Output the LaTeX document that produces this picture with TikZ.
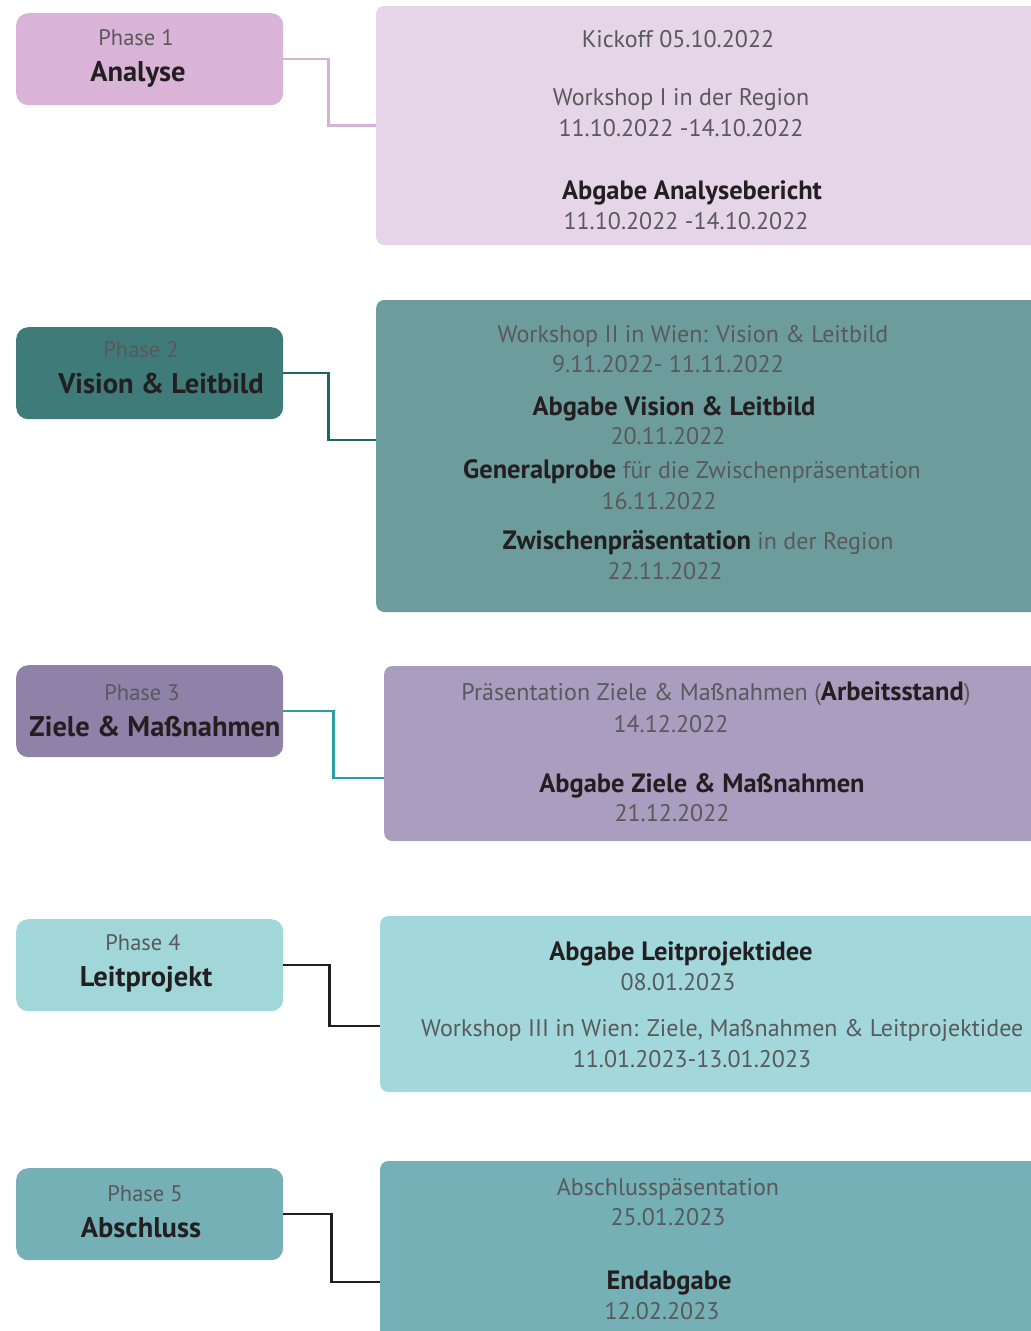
\documentclass[tikz,border=0pt]{standalone}
\usepackage{fontspec}
\setmainfont{PT Sans}
\usetikzlibrary{positioning}
\definecolor{txtgray}{RGB}{88,89,91}
\definecolor{txtdark}{RGB}{35,31,32}
\definecolor{phaseone}{RGB}{217,180,216}
\definecolor{dateone}{RGB}{230,212,232}
\definecolor{phasetwo}{RGB}{62,123,121}
\definecolor{datetwo}{RGB}{109,156,156}
\definecolor{phasethree}{RGB}{142,130,169}
\definecolor{datethree}{RGB}{169,158,191}
\definecolor{phasefour}{RGB}{162,215,218}
\definecolor{datefour}{RGB}{162,216,219}
\definecolor{phasefive}{RGB}{116,176,182}
\definecolor{datefive}{RGB}{116,176,182}
\definecolor{linkone}{RGB}{215,178,215}
\definecolor{linktwo}{RGB}{31,103,102}
\definecolor{linkthree}{RGB}{42,158,160}
\newcommand{\bfdark}[1]{{\fontsize{26.5}{30}\selectfont\bfseries\color{txtdark}#1}}

\begin{document}
\begin{tikzpicture}[x=1pt, y=-1pt,
  phbox/.style={rounded corners=12pt, minimum width=267pt,
    minimum height=92pt, inner sep=0pt, anchor=north west},
  dtbox/.style={rounded corners=8pt, minimum width=700pt,
    inner sep=0pt, anchor=west},
  link/.style={line width=2.2pt},
  ph/.style={font=\fontsize{22.5}{26}\selectfont, text=txtgray,
    text height=17pt, text depth=1.2pt, inner sep=0pt},
  ttl/.style={font=\fontsize{28.5}{32}\selectfont\bfseries, text=txtdark,
    text height=21.5pt, text depth=1.5pt, inner sep=0pt},
  tx/.style={font=\fontsize{24}{28}\selectfont, text=txtgray,
    text height=18pt, text depth=1.2pt, inner sep=0pt},
  bx/.style={font=\fontsize{26.5}{30}\selectfont\bfseries, text=txtdark,
    text height=20pt, text depth=1.4pt, inner sep=0pt},
]
  \useasboundingbox (0,0) rectangle (1031,1331);
  \fill[white] (0,0) rectangle (1031,1331);
  \clip (0,0) rectangle (1031,1331);

  % phases
  \node[phbox, fill=phaseone] (p1) at (16,13) {};
  \node[phbox, fill=phasetwo] (p2) at (16,327) {};
  \node[phbox, fill=phasethree] (p3) at (16,665) {};
  \node[phbox, fill=phasefour] (p4) at (16,919) {};
  \node[phbox, fill=phasefive] (p5) at (16,1168) {};

  \node[ph] (p1a) at (136,38) {Phase 1};
  \node[ttl] (p1b) at (138,71) {Analyse};
  \node[ph] (p2a) at (141,350) {Phase 2};
  \node[ttl] (p2b) at (161,383) {Vision \& Leitbild};
  \node[ph] (p3a) at (142,693) {Phase 3};
  \node[ttl] (p3b) at (155,726) {Ziele \& Maßnahmen};
  \node[ph] (p4a) at (143,943) {Phase 4};
  \node[ttl] (p4b) at (146,976) {Leitprojekt};
  \node[ph] (p5a) at (145,1194) {Phase 5};
  \node[ttl] (p5b) at (141,1227) {Abschluss};

  % dates
  \node[dtbox, fill=dateone, minimum height=239pt] (d1) at (376,125.5) {};
  \node[dtbox, fill=datetwo, minimum height=312pt] (d2) at (376,456) {};
  \node[dtbox, fill=datethree, minimum height=175pt] (d3) at (384,753.5) {};
  \node[dtbox, fill=datefour, minimum height=176pt] (d4) at (380,1004) {};
  \node[dtbox, fill=datefive, minimum height=220pt] (d5) at (380,1271) {};

  \draw[link, linkone] (p1.east) -- ++(45,0) |- (d1.west);
  \draw[link, linktwo] (p2.east) -- ++(45,0) |- ([yshift=16pt]d2.west);
  \draw[link, linkthree] (p3.east) -- ++(50,0) |- ([yshift=-24.5pt]d3.west);
  \draw[link, txtdark] (p4.east) -- ++(46,0) |- ([yshift=-22pt]d4.west);
  \draw[link, txtdark] (p5.east) -- ++(48,0) |- ([yshift=-11pt]d5.west);

  \node[tx] (t11) at (678,39) {Kickoff 05.10.2022};
  \node[tx] (t12) at (681,97) {Workshop I in der Region};
  \node[tx] (t13) at (681,128) {11.10.2022 -14.10.2022};
  \node[bx] (t14) at (692,190) {Abgabe Analysebericht};
  \node[tx] (t15) at (686,221) {11.10.2022 -14.10.2022};

  \node[tx] (t21) at (693,334) {Workshop II in Wien: Vision \& Leitbild};
  \node[tx] (t22) at (668,364) {9.11.2022- 11.11.2022};
  \node[bx] (t23) at (674,406) {Abgabe Vision \& Leitbild};
  \node[tx] (t24) at (668,436) {20.11.2022};
  \node[tx] (t25) at (692,470)
    {\bfdark{Generalprobe} für die Zwischenpräsentation};
  \node[tx] (t26) at (659,501) {16.11.2022};
  \node[tx] (t27) at (698,541)
    {\bfdark{Zwischenpräsentation} in der Region};
  \node[tx] (t28) at (665,571) {22.11.2022};

  \node[tx] (t31) at (716,692)
    {Präsentation Ziele \& Maßnahmen (\bfdark{Arbeitsstand})};
  \node[tx] (t32) at (671,724) {14.12.2022};
  \node[bx] (t33) at (702,783) {Abgabe Ziele \& Maßnahmen};
  \node[tx] (t34) at (672,813) {21.12.2022};

  \node[bx] (t41) at (681,951) {Abgabe Leitprojektidee};
  \node[tx] (t42) at (678,982) {08.01.2023};
  \node[tx, anchor=west] (t43) at (421,1028)
    {Workshop III in Wien: Ziele, Maßnahmen \& Leitprojektidee};
  \node[tx] (t44) at (692,1059) {11.01.2023-13.01.2023};

  \node[tx] (t51) at (668,1187) {Abschlusspäsentation};
  \node[tx] (t52) at (668,1217) {25.01.2023};
  \node[bx] (t53) at (669,1280) {Endabgabe};
  \node[tx] (t54) at (662,1311) {12.02.2023};
\end{tikzpicture}
\end{document}
